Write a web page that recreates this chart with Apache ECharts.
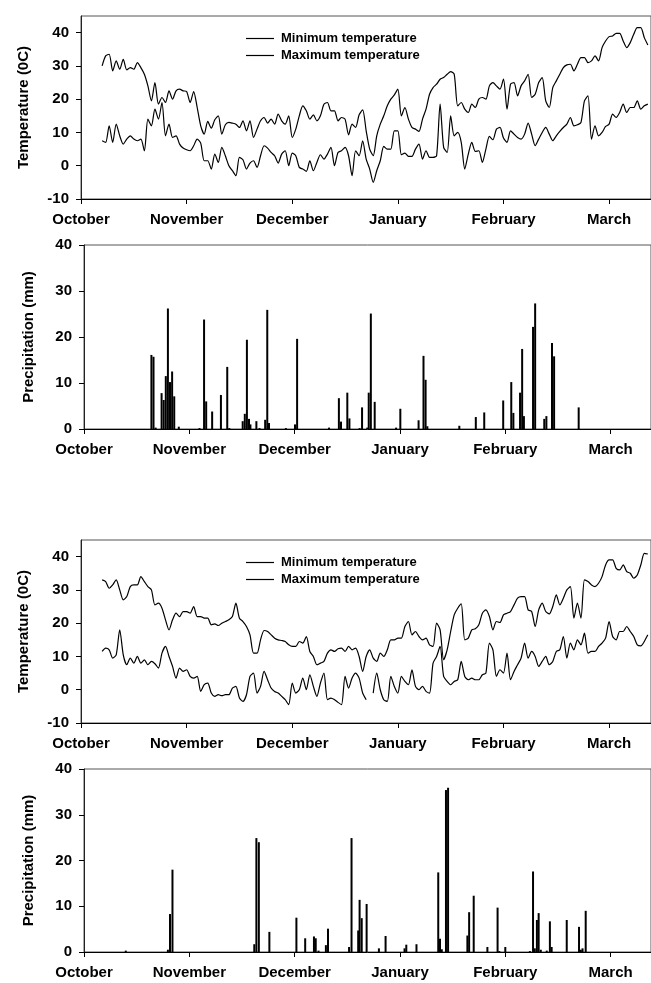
<!DOCTYPE html>
<html>
<head>
<meta charset="utf-8">
<script src="https://cdn.jsdelivr.net/npm/echarts@6/dist/echarts.min.js"></script>
<style>
  html, body { margin: 0; padding: 0; background: #fff; }
  #chart { width: 651px; height: 983px; }
</style>
</head>
<body>
<div id="chart"></div>
<script>
// x axis: days counted from 1 October, one month tick every 30 days
var months = ['October', 'November', 'December', 'January', 'February', 'March'];
var monthTicks = [0, 30, 60, 90, 120, 150];
var tempTicks = [-10, 0, 10, 20, 30, 40];
var rainTicks = [0, 10, 20, 30, 40];

// daily temperatures, first value is day 6
var firstDay = 6;
var minTemp1 = [
  7.5, 7, 12, 7, 12.5, 9, 6.5, 8, 9, 8,
  7.5, 8, 4.5, 14, 12, 17, 14, 19, 9, 12.5,
  8.5, 9, 6.5, 5.3, 4.8, 4.5, 6, 8, 6.8, 1.5,
  1.5, -1, 3.5, 1, 5.5, 3, 0, -1.5, -3, 2.5,
  1.8, -1, 0.8, 1.5, -0.5, 3, 6, 5.3, 4, 3,
  0.8, 3.5, 4.5, 0, 3.8, 3, -0.5, -1, -1.7, 1.5,
  -1.5, 1, 3.3, 2, 3.5, 5.5, 0, 4, 4.5, 5.5,
  3, -3, 4.5, 3, 7.5, 2, -1, -5, -1.5, 1.5,
  5.8, 5, 5, 10.5, 10.5, 3.3, 3.8, 2.8, 2.8, 5,
  6.5, 2, 4.5, 2.5, 2.5, 3, 18.5, 5.5, 4, 15,
  9, 10, 7, -1, 3.5, 7, 4.3, 4.5, 1, 5,
  8.8, 7.8, 11, 11.5, 8.3, 7, 10.5, 9.5, 8.5, 8,
  9.5, 12.8, 9.5, 6, 8, 10, 11.5, 9.5, 7.5, 9,
  10.3, 11.5, 12.5, 14.5, 12, 12.3, 13, 19.5, 21, 8,
  12, 9, 10, 11.8, 12.5, 15.5, 14.5, 16, 18.5, 16,
  17.5, 17.5, 19.5, 17, 18, 18.5
];
var maxTemp1 = [
  30, 33, 33.5, 28.5, 31.5, 29, 32, 28.8, 29.5, 29,
  31, 29.5, 27.5, 24, 19.5, 25, 18.5, 20.5, 19, 22.5,
  20, 22.5, 23, 22.5, 22.3, 19, 22.3, 17.5, 12, 9.5,
  13.3, 11.3, 13.8, 15, 9.5, 12.3, 13, 12.8, 12.5, 11.5,
  13.5, 10.5, 13.5, 8.5, 11, 13.5, 14.5, 12.8, 14, 12.5,
  15.5, 13.5, 12.5, 15, 8.5, 11, 15, 18, 16.5, 14,
  15.3, 13.5, 15, 18.5, 19, 16.5, 16.5, 13.5, 14.5, 14,
  9.3, 12.5, 11.5, 15.3, 16.8, 10.5, 5, 3, 9, 12.5,
  15, 18, 20, 21.3, 23, 15, 17.5, 14, 11.5, 11,
  10.3, 14, 17, 21.5, 23.5, 24.5, 26, 26.5, 27.5, 28.3,
  27.5, 18, 19, 17, 16, 18.5, 17.5, 20, 20.5, 20,
  24, 25, 24, 23, 26, 17, 24.5, 25, 21, 24,
  25.5, 27.5, 20.5, 21.5, 25, 26.5, 19.5, 17.5, 23.5, 25.5,
  27.5, 29.5, 30.3, 30.5, 28.5, 30.5, 32.5, 32.5, 31, 31.5,
  33, 31.5, 35.5, 37.5, 38.8, 39, 39.8, 39.8, 37.5, 35.5,
  37, 39.5, 41.5, 41.5, 38.5, 36.3
];
var minTemp2 = [
  11.5, 12.5, 12, 9.5, 10.5, 18, 10.5, 7.5, 9.5, 8,
  10, 8, 9, 7.5, 8.5, 7.8, 6.5, 11, 13, 10,
  7, 3.5, 6.5, 5.5, 6, 4, 3.5, 4, -0.5, 1.5,
  2, -1, -2, -1.5, -1.8, -1.5, -1.5, 0.5, 1, -2.5,
  -3.5, -1.5, 4, 5, -1, 1, 5.5, 3, 0.5, -0.5,
  -1, -2, -3, -4.5, 2, -1, 0, 3.5, 0, 4.5,
  1, -2, 2, 5, -3, -2.5, -3, -3.8, -4.5, 4,
  0.5, 3.5, 5, 3.5, -1, -3, null, -1, 5, 0,
  -3, -3.5, 4, 1, -1, 4, 2.5, 1.5, 6, 1,
  0, 1, -0.5, -1, 8, 10, 13, 4, 2.5, 1.5,
  2.5, 3, 8.5, 4, 3, 3.5, 3, 3, 4.5, 5,
  14, 12, 4, 6, 5, 11, 3, 5.5, 7.5, 9.5,
  14, 9.5, 11.5, 10, 7, 8.5, 10, 7.5, 8.5, 11.5,
  12, 16, 9.5, 14, 12, 15, 13.5, 17, 11, 11.5,
  11.5, 13, 14, 15.5, 20.5, 16, 15, 17.5, 17.5, 19,
  17.5, 16, 13.5, 13.2, 14.5, 16.5
];
var maxTemp2 = [
  33, 32.5, 30.5, 31.5, 33, 30, 27, 28, 31, 31.5,
  31.5, 34, 32.5, 31, 30, 25.5, 26, 24.5, 21, 18,
  21, 23, 22, 23.5, 23.5, 23, 25, 22, 22, 21.5,
  21.5, 19.5, 19.8, 19.3, 20, 20.5, 21, 22, 26, 21.5,
  20.5, 19, 16.5, 11, 11, 15, 17.8, 17.5, 16.5, 15.5,
  15, 14.8, 14.5, 13.5, 13, 13, 14.5, 14, 16, 11.5,
  10, 7.5, 8, 8.5, 11, 12, 11.5, 12.3, 12.5, 11.5,
  13, 12, 12.5, 10, 5.5, 10, 12, 9.5, 8.5, 11,
  10, 12, 15, 15, 15.5, 15.5, 19, 20.5, 16.5, 17.5,
  16, 15, 15.5, 13.5, 13, 20, 18, 9, 12, 17.5,
  22.5, 24.5, 25.8, 15, 15.5, 18, 18.3, 19.5, 23, 24,
  22, 18, 20.5, 20.2, 22.5, 23, 23.5, 25.5, 27.5, 28,
  28, 24, 23.5, 19, 24, 26, 23.5, 22.8, 25, 28.5,
  25.5, 27.5, 30, 31, 21.5, 26, 21.5, 33, 32.5, 31.5,
  31, 32, 34, 37.5, 39, 39, 36.5, 36, 37.5, 35.5,
  35, 33.5, 34.5, 37.5, 41, 40.8
];

// precipitation: position (day) and amount (mm)
var rainDays1 = [19.2, 19.8, 20.4, 22.1, 22.7, 23.3, 23.9, 24.5, 25.1, 25.7, 27.0, 32.9, 34.2, 34.8, 36.5, 39.0, 40.8, 41.4,
  45.2, 45.8, 46.4, 47.0, 47.4, 49.1, 50.0, 51.6, 52.2, 52.7, 57.5, 60.1, 60.7, 69.8, 72.6, 73.2, 75.0, 75.6, 78.5, 79.2,
  80.7, 81.1, 81.7, 82.8, 88.9, 90.1, 95.3, 96.7, 97.3, 97.8, 106.9, 111.6, 114.0, 119.4, 121.7, 122.3, 124.2, 124.8,
  125.3, 127.9, 128.5, 131.1, 131.7, 133.3, 133.9, 140.9];
var rainMm1 = [16.1, 15.7, 0.3, 7.8, 6.3, 11.5, 26.2, 10.2, 12.5, 7.1, 0.5, 0.2, 23.8, 6.0, 3.8, 7.4, 13.5, 0.2,
  1.7, 3.3, 19.4, 2.2, 1.0, 1.7, 0.2, 2.0, 25.9, 1.3, 0.2, 1.0, 19.6, 0.3, 6.7, 1.6, 7.9, 2.3, 0.2, 4.7,
  0.3, 7.9, 25.1, 5.9, 0.3, 4.4, 1.9, 15.9, 10.7, 0.6, 0.7, 2.6, 3.6, 6.2, 10.2, 3.5, 7.9, 17.4,
  2.8, 22.2, 27.3, 2.2, 2.8, 18.7, 15.8, 4.7];
var rainDays2 = [11.9, 23.9, 24.5, 25.2, 48.5, 49.1, 49.8, 52.8, 60.5, 63.0, 65.5, 66.0, 66.8, 68.9, 69.5, 75.5, 76.2,
  78.1, 78.5, 79.1, 80.5, 84.0, 85.9, 91.3, 91.8, 94.7, 100.9, 101.4, 101.9, 103.1, 103.7, 109.2, 109.7, 111.0,
  114.9, 117.8, 118.3, 120.0, 127.0, 127.9, 128.4, 129.0, 129.5, 130.1, 131.8, 132.7, 133.2, 137.5, 141.0, 141.5,
  142.0, 142.9];
var rainMm2 = [0.3, 0.5, 8.3, 18.0, 1.7, 24.9, 24.0, 4.4, 7.5, 3.0, 3.4, 3.0, 0.3, 1.5, 5.1, 1.1, 24.9,
  4.7, 11.4, 7.4, 10.5, 0.8, 3.5, 0.8, 1.6, 1.7, 17.4, 2.9, 0.6, 35.4, 35.9, 3.6, 8.7, 12.3,
  1.1, 9.7, 0.2, 1.1, 0.2, 17.6, 0.8, 7.0, 8.5, 0.5, 0.3, 6.7, 1.1, 7.0, 5.5, 0.5,
  0.8, 9.0];

var font = 'Arial, "Liberation Sans", sans-serif';

function pairs(xs, ys) {
  return xs.map(function (x, i) { return [x, ys[i]]; });
}
function daily(arr) {
  return arr.map(function (v, i) { return [firstDay + i, v]; });
}

function grid(left, top, height) {
  return {
    left: left, top: top, right: -2, height: height,
    show: true, borderColor: '#555', borderWidth: 1, backgroundColor: 'transparent'
  };
}

function monthAxis(idx, max) {
  return {
    type: 'value', gridIndex: idx, min: 0, max: max, interval: 30,
    splitLine: { show: false },
    axisLine: { onZero: false, lineStyle: { color: '#000', width: 1 } },
    axisTick: { customValues: monthTicks, length: 5, lineStyle: { color: '#000' } },
    axisLabel: {
      customValues: monthTicks, margin: 13,
      color: '#000', fontSize: 15, fontWeight: 'bold', fontFamily: font,
      formatter: function (v) { return months[monthTicks.indexOf(v)] || ''; }
    }
  };
}

function valueAxis(idx, name, min, max, ticks, gap) {
  return {
    type: 'value', gridIndex: idx, min: min, max: max, interval: 10,
    name: name, nameLocation: 'middle', nameGap: gap,
    nameTextStyle: { color: '#000', fontSize: 15, fontWeight: 'bold', fontFamily: font },
    splitLine: { show: false },
    axisLine: { show: true, onZero: false, lineStyle: { color: '#222', width: 1 } },
    axisTick: { show: true, customValues: ticks, length: 5, lineStyle: { color: '#000' } },
    axisLabel: {
      customValues: ticks, margin: 12,
      color: '#000', fontSize: 15, fontWeight: 'bold', fontFamily: font
    }
  };
}

function tempLine(name, data, idx) {
  return {
    type: 'line', name: name, xAxisIndex: idx, yAxisIndex: idx, data: data,
    symbol: 'none', smooth: 0.25, connectNulls: false,
    lineStyle: { color: '#000', width: 1.2 }, itemStyle: { color: '#000' }
  };
}

function rainBars(data, idx) {
  return {
    type: 'bar', xAxisIndex: idx, yAxisIndex: idx, data: data,
    barWidth: 2, itemStyle: { color: '#000' }
  };
}

function legend(top) {
  return {
    data: ['Minimum temperature', 'Maximum temperature'],
    orient: 'vertical', left: 246, top: top, padding: 0, itemGap: 4,
    icon: 'rect', itemWidth: 28, itemHeight: 1.2,
    itemStyle: { color: '#000' },
    textStyle: { color: '#000', fontSize: 13, fontWeight: 'bold', fontFamily: font, padding: [0, 0, 0, 2] }
  };
}

var chart = echarts.init(document.getElementById('chart'), null, { renderer: 'canvas' });
chart.setOption({
  animation: false,
  backgroundColor: '#fff',
  legend: [legend(32), legend(556)],
  grid: [
    grid(81, 16, 183),
    grid(84, 245, 184),
    grid(81, 540, 183),
    grid(84, 769, 183)
  ],
  xAxis: [
    monthAxis(0, 161.9),
    monthAxis(1, 161.5),
    monthAxis(2, 161.9),
    monthAxis(3, 161.5)
  ],
  yAxis: [
    valueAxis(0, 'Temperature (0C)', -10, 45, tempTicks, 50),
    valueAxis(1, 'Precipitation (mm)', 0, 40, rainTicks, 48),
    valueAxis(2, 'Temperature (0C)', -10, 45, tempTicks, 50),
    valueAxis(3, 'Precipitation (mm)', 0, 40, rainTicks, 48)
  ],
  series: [
    tempLine('Minimum temperature', daily(minTemp1), 0),
    tempLine('Maximum temperature', daily(maxTemp1), 0),
    rainBars(pairs(rainDays1, rainMm1), 1),
    tempLine('Minimum temperature', daily(minTemp2), 2),
    tempLine('Maximum temperature', daily(maxTemp2), 2),
    rainBars(pairs(rainDays2, rainMm2), 3)
  ]
});
</script>
</body>
</html>
